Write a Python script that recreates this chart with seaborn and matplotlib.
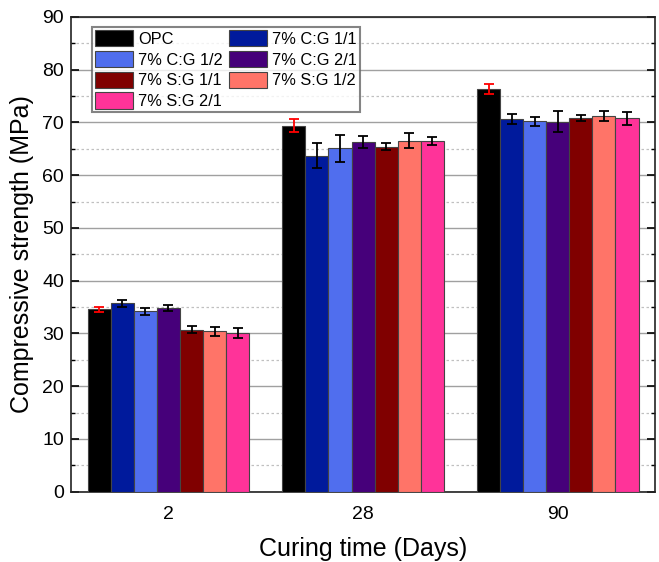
import matplotlib
matplotlib.use("Agg")
import matplotlib.pyplot as plt
import seaborn as sns
import pandas as pd
import numpy as np
from matplotlib.ticker import MultipleLocator

days = ["2", "28", "90"]
groups = ["OPC", "7% C:G 1/1", "7% C:G 1/2", "7% C:G 2/1",
          "7% S:G 1/1", "7% S:G 1/2", "7% S:G 2/1"]
# strength per group, ordered by days
opc      = [34.6, 69.4, 76.3]
cg_11    = [35.7, 63.7, 70.6]
cg_12    = [34.2, 65.1, 70.2]
cg_21    = [34.8, 66.3, 70.1]
sg_11    = [30.7, 65.4, 70.9]
sg_12    = [30.4, 66.5, 71.2]
sg_21    = [30.0, 66.4, 70.8]
opc_err   = [0.45, 1.3, 0.9]
cg_11_err = [0.6, 2.3, 0.9]
cg_12_err = [0.7, 2.6, 0.8]
cg_21_err = [0.55, 1.1, 2.0]
sg_11_err = [0.7, 0.6, 0.55]
sg_12_err = [0.85, 1.4, 1.0]
sg_21_err = [0.95, 0.75, 1.25]

values = [opc, cg_11, cg_12, cg_21, sg_11, sg_12, sg_21]
errors = [opc_err, cg_11_err, cg_12_err, cg_21_err, sg_11_err, sg_12_err, sg_21_err]
colors = ["#000000", "#001A9C", "#506EEE", "#46007A", "#800000", "#FF7468", "#FF3399"]

rows = []
for g, vals in zip(groups, values):
    for d, v in zip(days, vals):
        rows.append({"day": d, "group": g, "value": v})
df = pd.DataFrame(rows)

sns.set_style("white")
plt.rcParams["font.family"] = ["Liberation Sans", "DejaVu Sans"]
plt.rcParams["text.color"] = "black"
plt.rcParams["axes.labelcolor"] = "black"
plt.rcParams["xtick.color"] = "black"
plt.rcParams["ytick.color"] = "black"

fig = plt.figure(figsize=(6.59, 5.62), dpi=100)
ax = fig.add_axes([0.108, 0.125, 0.886, 0.845])

sns.barplot(data=df, x="day", y="value", hue="group", order=days, hue_order=groups,
            palette=colors, width=0.83, edgecolor="#444444", linewidth=0.8,
            errorbar=None, saturation=1, ax=ax, zorder=3)

bar_conts = list(ax.containers)
for i, cont in enumerate(bar_conts):
    for j, bar in enumerate(cont.patches):
        x = bar.get_x() + bar.get_width() / 2
        y = bar.get_height()
        ax.errorbar(x, y, yerr=errors[i][j], fmt="none",
                    ecolor="red" if i == 0 else "black",
                    elinewidth=1.3, capsize=3.7, capthick=1.3, zorder=4)

ax.set_xlim(-0.5, 2.5)
ax.set_ylim(0, 90)
ax.yaxis.set_major_locator(MultipleLocator(10))
ax.yaxis.set_minor_locator(MultipleLocator(5))
ax.grid(axis="y", which="major", color="#A0A0A0", linewidth=1.0, linestyle="-", zorder=0)
ax.grid(axis="y", which="minor", color="#C0C0C0", linewidth=0.9, linestyle=(0, (2, 2)), zorder=0)
ax.grid(axis="x", visible=False)
ax.set_axisbelow(True)
ax.tick_params(axis="y", which="major", direction="in", length=6, width=1.2,
               left=True, right=True, labelsize=14, colors="black", pad=5)
ax.tick_params(axis="y", which="minor", direction="in", length=3, width=1.0,
               left=True, right=True, colors="black")
ax.tick_params(axis="x", length=0, labelsize=14, pad=10, colors="black")
for s in ax.spines.values():
    s.set_color("#222222")
    s.set_linewidth(1.2)

ax.set_xlabel("Curing time (Days)", fontsize=18, labelpad=10, color="black")
ax.set_ylabel("Compressive strength (MPa)", fontsize=18, labelpad=6, color="black")

handles, labels = ax.get_legend_handles_labels()
handles, labels = handles[:7], labels[:7]
if ax.get_legend() is not None:
    ax.get_legend().remove()
order = [0, 2, 4, 6, 1, 3, 5]
leg = ax.legend([handles[k] for k in order], [labels[k] for k in order],
                ncol=2, loc="upper left", bbox_to_anchor=(0.036, 0.979),
                fontsize=11.8, frameon=True, fancybox=False, edgecolor="#666666",
                handlelength=2.3, handleheight=1.15, labelspacing=0.25,
                columnspacing=0.4, handletextpad=0.3, borderpad=0.2,
                borderaxespad=0.0)
leg.get_frame().set_linewidth(1.5)
for t in leg.get_texts():
    t.set_color("black")
leg.set_zorder(10)

fig.savefig("out.png", dpi=100)
